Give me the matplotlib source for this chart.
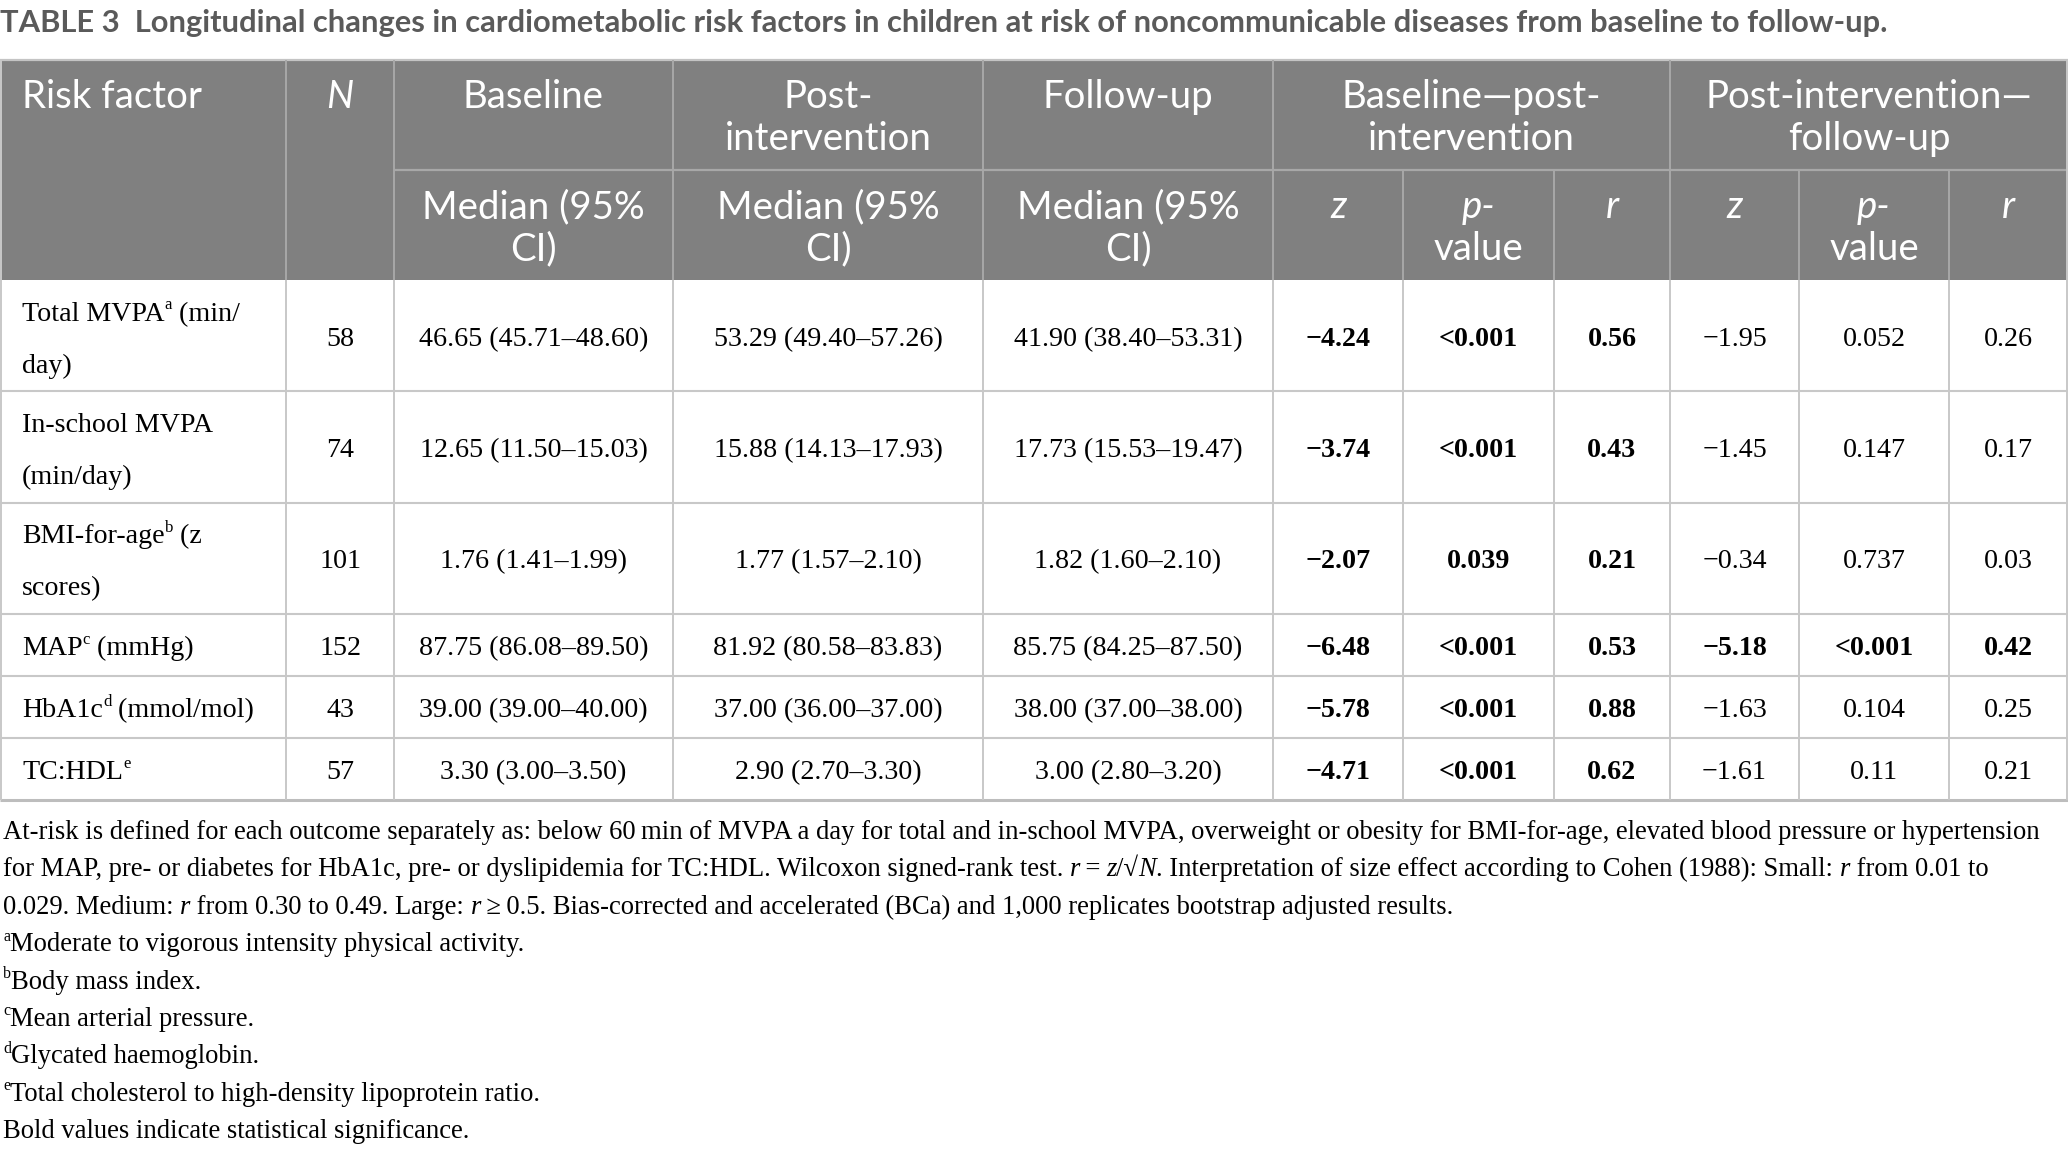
import matplotlib
matplotlib.use("Agg")
import matplotlib.pyplot as plt
from matplotlib.patches import Rectangle
from matplotlib.font_manager import FontProperties

# ---- table data ----
risk_names = ["Total MVPA", "In-school MVPA", "BMI-for-age", "MAP", "HbA1c", "TC:HDL"]
risk_marks = ["a", "", "b", "c", "d", "e"]
risk_units_line1 = [" (min/", "", " (z", " (mmHg)", " (mmol/mol)", ""]
risk_units_line2 = ["day)", "(min/day)", "scores)", "", "", ""]

n_values = [58, 74, 101, 152, 43, 57]

baseline_med = [46.65, 12.65, 1.76, 87.75, 39.00, 3.30]
baseline_lo = [45.71, 11.50, 1.41, 86.08, 39.00, 3.00]
baseline_hi = [48.60, 15.03, 1.99, 89.50, 40.00, 3.50]

post_med = [53.29, 15.88, 1.77, 81.92, 37.00, 2.90]
post_lo = [49.40, 14.13, 1.57, 80.58, 36.00, 2.70]
post_hi = [57.26, 17.93, 2.10, 83.83, 37.00, 3.30]

follow_med = [41.90, 17.73, 1.82, 85.75, 38.00, 3.00]
follow_lo = [38.40, 15.53, 1.60, 84.25, 37.00, 2.80]
follow_hi = [53.31, 19.47, 2.10, 87.50, 38.00, 3.20]

z_bp = [-4.24, -3.74, -2.07, -6.48, -5.78, -4.71]
p_bp = ["<0.001", "<0.001", "0.039", "<0.001", "<0.001", "<0.001"]
r_bp = [0.56, 0.43, 0.21, 0.53, 0.88, 0.62]

z_pf = [-1.95, -1.45, -0.34, -5.18, -1.63, -1.61]
p_pf = ["0.052", "0.147", "0.737", "<0.001", "0.104", "0.11"]
r_pf = [0.26, 0.17, 0.03, 0.42, 0.25, 0.21]

title = ("TABLE 3  Longitudinal changes in cardiometabolic risk factors in children "
         "at risk of noncommunicable diseases from baseline to follow-up.")

header_top = ["Risk factor", "N", "Baseline", "Post-\nintervention", "Follow-up",
              "Baseline\u2014post-\nintervention", "Post-intervention\u2014\nfollow-up"]
header_top_span = [(0, 1), (1, 2), (2, 3), (3, 4), (4, 5), (5, 8), (8, 11)]
header_sub = ["Median (95%\nCI)", "Median (95%\nCI)", "Median (95%\nCI)",
              "z", "p-\nvalue", "r", "z", "p-\nvalue", "r"]
italic_words = {"N", "z", "r", "p-"}

footnotes = [
    [("At-risk is defined for each outcome separately as: below 60\u2009min of MVPA a day for total and "
      "in-school MVPA, overweight or obesity for BMI-for-age, elevated blood pressure or hypertension", "")],
    [("for MAP, pre- or diabetes for HbA1c, pre- or dyslipidemia for TC:HDL. Wilcoxon signed-rank test. ", ""),
     ("r", "i"), ("\u2009=\u2009", ""), ("z", "i"), ("/\u221a", ""), ("N", "i"),
     (". Interpretation of size effect according to Cohen (1988): Small: ", ""), ("r", "i"),
     (" from 0.01 to", "")],
    [("0.029. Medium: ", ""), ("r", "i"), (" from 0.30 to 0.49. Large: ", ""), ("r", "i"),
     ("\u2009\u2265\u20090.5. Bias-corrected and accelerated (BCa) and 1,000 replicates bootstrap adjusted results.", "")],
    [("a", "sup"), ("Moderate to vigorous intensity physical activity.", "")],
    [("b", "sup"), ("Body mass index.", "")],
    [("c", "sup"), ("Mean arterial pressure.", "")],
    [("d", "sup"), ("Glycated haemoglobin.", "")],
    [("e", "sup"), ("Total cholesterol to high-density lipoprotein ratio.", "")],
    [("Bold values indicate statistical significance.", "")],
]

# ---- layout ----
W, H = 2068, 1152
col_edges = [0, 286, 394, 673, 983, 1273, 1403, 1554, 1670, 1799, 1949, 2068]
head_top, head_mid, head_bot = 60, 170, 280
HEAD_GRAY = "#808080"
HEAD_LINE = "#a8a8a8"
BODY_LINE = "#c8c8c8"

SERIF = ["Liberation Serif", "DejaVu Serif"]
SANS = ["Lato", "DejaVu Sans"]

fig = plt.figure(figsize=(W / 100, H / 100), dpi=100)
ax = fig.add_axes([0, 0, 1, 1])
ax.set_xlim(0, W)
ax.set_ylim(H, 0)
ax.axis("off")
renderer = fig.canvas.get_renderer()


def fp(family, size, style="normal", weight="normal"):
    return FontProperties(family=family, size=size, style=style, weight=weight)


def adv(s, prop):
    w1, _, _ = renderer.get_text_width_height_descent("x" + s + "x", prop, False)
    w0, _, _ = renderer.get_text_width_height_descent("xx", prop, False)
    return w1 - w0


def fit_size(s, family, target, weight="normal", style="normal"):
    return 20 * target / adv(s, fp(family, 20, style, weight))


def draw_runs(x, y, runs, size, family, ha="left", color="black", base_weight="normal"):
    items = []
    for s, kind in runs:
        style = "italic" if kind in ("i", "bi") else "normal"
        weight = "bold" if kind in ("b", "bi") else base_weight
        sz = size * 0.6 if kind == "sup" else size
        items.append((s, fp(family, sz, style, weight), kind))
    total = sum(adv(s, p) for s, p, k in items)
    cx = x - total / 2 if ha == "center" else x
    for s, p, k in items:
        dy = -size * 100 / 72 * 0.4 if k == "sup" else 0
        ax.text(cx, y + dy, s, fontproperties=p, ha="left", va="baseline", color=color)
        cx += adv(s, p)


title_size = fit_size(title, SANS, 1884, weight="bold")
head_size = fit_size("Baseline", SANS, 141)
body_size = fit_size("46.65 (45.71\u201348.60)", SERIF, 228)
foot_size = fit_size(footnotes[0][0][0], SERIF, 2040)

# title
draw_runs(0, 32, [(title, "")], title_size, SANS, color="#5a5a5a", base_weight="bold")

# header block
ax.add_patch(Rectangle((0, head_top), W, head_bot - head_top, facecolor=HEAD_GRAY, edgecolor="none"))
ax.hlines(head_top, 0, W, color="#c4c4c4", lw=1.6)
ax.hlines(head_mid, col_edges[2], W, color=HEAD_LINE, lw=1.6)
for i in [1, 2, 3, 4, 5, 8]:
    ax.vlines(col_edges[i], head_top, head_bot, color=HEAD_LINE, lw=1.4)
for i in [6, 7, 9, 10]:
    ax.vlines(col_edges[i], head_mid, head_bot, color=HEAD_LINE, lw=1.4)


def header_cell(text, c0, c1, base_y, left=False):
    for j, line in enumerate(text.split("\n")):
        kind = "i" if line in italic_words else ""
        if left:
            draw_runs(col_edges[c0] + 22, base_y + 42 * j, [(line, kind)], head_size, SANS,
                      color="white")
        else:
            draw_runs((col_edges[c0] + col_edges[c1]) / 2, base_y + 42 * j, [(line, kind)], head_size,
                      SANS, ha="center", color="white")


for text, (c0, c1) in zip(header_top, header_top_span):
    header_cell(text, c0, c1, 108, left=(c0 == 0))
for k, text in enumerate(header_sub):
    header_cell(text, k + 2, k + 3, 218)

# body rows
def fmt_ci(m, lo, hi):
    return f"{m:.2f} ({lo:.2f}\u2013{hi:.2f})"


def fmt_num(v):
    return f"{v:.2f}".replace("-", "\u2212")


def significant(p):
    return p.startswith("<") or float(p) < 0.05


row_tops = [head_bot]
for k in range(len(risk_names)):
    lines = 2 if risk_units_line2[k] else 1
    row_tops.append(row_tops[-1] + 62 + 49.3 * (lines - 1))

for k in range(len(risk_names)):
    top, bot = row_tops[k], row_tops[k + 1]
    cy = (top + bot) / 2
    line1 = [(risk_names[k], "")]
    if risk_marks[k]:
        line1.append((risk_marks[k], "sup"))
    if risk_units_line1[k]:
        line1.append((risk_units_line1[k], ""))
    if risk_units_line2[k]:
        draw_runs(22, cy - 15, line1, body_size, SERIF)
        draw_runs(22, cy + 37, [(risk_units_line2[k], "")], body_size, SERIF)
    else:
        draw_runs(22, cy + 10, line1, body_size, SERIF)

    sig1 = significant(p_bp[k])
    sig2 = significant(p_pf[k])
    cells = [
        (str(n_values[k]), ""),
        (fmt_ci(baseline_med[k], baseline_lo[k], baseline_hi[k]), ""),
        (fmt_ci(post_med[k], post_lo[k], post_hi[k]), ""),
        (fmt_ci(follow_med[k], follow_lo[k], follow_hi[k]), ""),
        (fmt_num(z_bp[k]), "b" if sig1 else ""),
        (p_bp[k], "b" if sig1 else ""),
        (f"{r_bp[k]:.2f}", "b" if sig1 else ""),
        (fmt_num(z_pf[k]), "b" if sig2 else ""),
        (p_pf[k], "b" if sig2 else ""),
        (f"{r_pf[k]:.2f}", "b" if sig2 else ""),
    ]
    for c, (txt, kind) in enumerate(cells, start=1):
        xc = (col_edges[c] + col_edges[c + 1]) / 2
        draw_runs(xc, cy + 10, [(txt, kind)], body_size, SERIF, ha="center")

for y in row_tops[1:-1]:
    ax.hlines(y, 0, W, color=BODY_LINE, lw=1.5)
ax.hlines(row_tops[-1], 0, W, color="#bdbdbd", lw=2.2)
for x in col_edges[1:-1]:
    ax.vlines(x, head_bot, row_tops[-1], color=BODY_LINE, lw=1.4)
ax.vlines([1, W - 1], head_top, row_tops[-1], color=BODY_LINE, lw=1.4)

# footnotes
for j, runs in enumerate(footnotes):
    draw_runs(3, 839 + 37.4 * j, runs, foot_size, SERIF)

fig.savefig("out.png", dpi=100)
